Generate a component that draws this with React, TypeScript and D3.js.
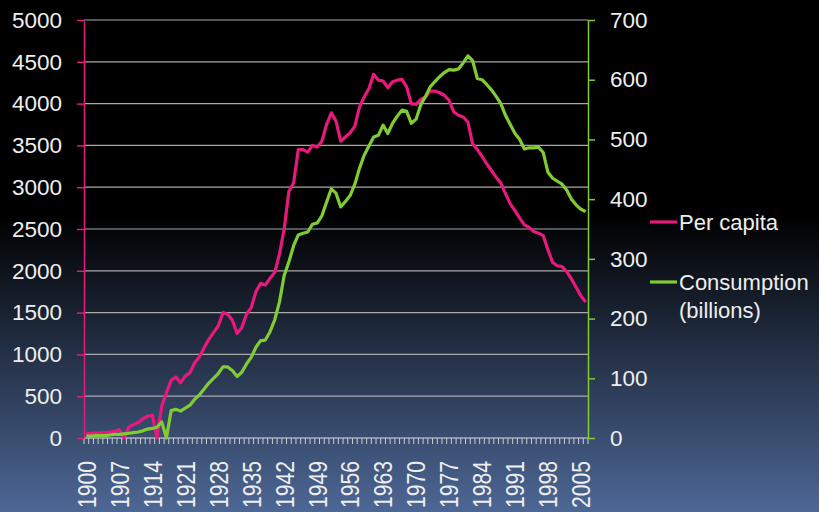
import React, { useRef, useEffect } from "react"
import * as d3 from "d3"

const chart_width = 819
const chart_height = 512
const plot_left = 84
const plot_right = 588
const plot_top = 20
const plot_bottom = 438

const pink = "#e8187c"
const green = "#80cc32"
const text_color = "#eeeeee"
const font = "'Liberation Sans', Arial, sans-serif"

// categories: one per year
const years = d3.range(1900, 2007)
const year_labels = [1900, 1907, 1914, 1921, 1928, 1935, 1942, 1949, 1956, 1963, 1970, 1977, 1984, 1991, 1998, 2005]

// left axis series
const per_capita = [
  50, 55, 60, 63, 66, 70, 80, 100, 0, 130,
  160, 185, 230, 260, 270, 0, 380, 540, 690, 730,
  660, 740, 780, 900, 970, 1080, 1180, 1260, 1340, 1500,
  1480, 1410, 1250, 1320, 1480, 1560, 1750, 1850, 1830, 1910,
  1980, 2200, 2500, 2950, 3050, 3450, 3450, 3420, 3500, 3480,
  3550, 3750, 3890, 3790, 3550, 3600, 3650, 3730, 3960, 4080,
  4180, 4350, 4280, 4270, 4190, 4260, 4280, 4290, 4200, 4000,
  3990, 4050, 4080, 4150, 4150, 4130, 4100, 4040, 3900, 3860,
  3840, 3780, 3520, 3450, 3370, 3280, 3200, 3120, 3050, 2920,
  2800, 2720, 2630, 2550, 2520, 2470, 2450, 2420, 2250, 2100,
  2060, 2050, 1990, 1900, 1800, 1700, 1625,
]

// right axis series (billions)
const consumption = [
  3, 3, 4, 4, 4, 5, 6, 6, 7, 8,
  9, 10, 12, 15, 16, 18, 27, 0, 46, 48,
  45, 50, 55, 65, 72, 82, 92, 100, 108, 119,
  119, 113, 103, 110, 124, 135, 152, 163, 164, 178,
  198, 228, 272, 295, 322, 340, 343, 345, 358, 360,
  372, 395, 417, 410, 387, 396, 406, 425, 452, 474,
  489, 504, 507, 524, 510, 527, 539, 549, 547, 527,
  534, 558, 572, 588, 597, 605, 612, 617, 616, 618,
  628, 640, 632, 602, 600, 592, 583, 572, 560, 540,
  525, 510, 500, 484, 486, 486, 487, 478, 445, 435,
  430, 425, 415, 400, 390, 383, 379,
]

const left_ticks = [0, 500, 1000, 1500, 2000, 2500, 3000, 3500, 4000, 4500, 5000]
const right_ticks = [0, 100, 200, 300, 400, 500, 600, 700]
const legend_labels = [["Per capita"], ["Consumption", "(billions)"]]

const App = () => {
  const d3Container = useRef<SVGSVGElement>(null)

  useEffect(() => {
    if (!d3Container.current) return
    const svg = d3.select(d3Container.current)
    svg.selectAll("*").remove()

    // background gradient
    const grad = svg
      .append("defs")
      .append("linearGradient")
      .attr("id", "bg")
      .attr("x1", 0)
      .attr("y1", 0)
      .attr("x2", 0)
      .attr("y2", 1)
    grad.append("stop").attr("offset", "0%").attr("stop-color", "#000000")
    grad.append("stop").attr("offset", "42%").attr("stop-color", "#000000")
    grad.append("stop").attr("offset", "100%").attr("stop-color", "#4d6795")
    svg
      .append("rect")
      .attr("width", chart_width)
      .attr("height", chart_height)
      .attr("fill", "url(#bg)")

    const x_scale = d3.scaleBand<number>().domain(years).range([plot_left, plot_right])
    const x_mid = (y: number) => (x_scale(y) as number) + x_scale.bandwidth() / 2
    const y_left = d3.scaleLinear().domain([0, 5000]).range([plot_bottom, plot_top])
    const y_right = d3.scaleLinear().domain([0, 700]).range([plot_bottom, plot_top])

    // gridlines
    svg
      .append("g")
      .selectAll("line")
      .data(left_ticks)
      .enter()
      .append("line")
      .attr("x1", plot_left)
      .attr("x2", plot_right)
      .attr("y1", d => y_left(d))
      .attr("y2", d => y_left(d))
      .attr("stroke", d => (d === 0 ? "#dddddd" : "#a8a8a8"))
      .attr("stroke-width", 1.2)

    // category ticks along the bottom
    const edges = years.map(y => x_scale(y) as number).concat([plot_right])
    svg
      .append("g")
      .selectAll("line")
      .data(edges)
      .enter()
      .append("line")
      .attr("x1", d => d)
      .attr("x2", d => d)
      .attr("y1", plot_bottom)
      .attr("y2", plot_bottom + 6)
      .attr("stroke", "#c8cdd8")
      .attr("stroke-width", 1)

    // year labels
    svg
      .append("g")
      .selectAll("text")
      .data(year_labels)
      .enter()
      .append("text")
      .attr("x", d => x_mid(d))
      .attr("y", plot_bottom + 23)
      .attr("transform", d => "rotate(-90," + x_mid(d) + "," + (plot_bottom + 23) + ")")
      .attr("dy", "0.36em")
      .attr("text-anchor", "end")
      .attr("font-family", font)
      .attr("font-size", 26)
      .attr("textLength", 47)
      .attr("lengthAdjust", "spacingAndGlyphs")
      .attr("fill", text_color)
      .text(d => d)

    // left axis
    const left_axis = svg
      .append("g")
      .attr("transform", "translate(" + plot_left + ",0)")
      .call(
        d3
          .axisLeft(y_left)
          .tickValues(left_ticks)
          .tickFormat(d3.format("d"))
          .tickSize(7)
          .tickSizeOuter(0)
          .tickPadding(15)
      )
    left_axis.select(".domain").attr("stroke", pink).attr("stroke-width", 1.5)
    left_axis.selectAll(".tick line").attr("stroke", pink).attr("stroke-width", 1.5)
    left_axis
      .selectAll(".tick text")
      .attr("fill", text_color)
      .attr("font-family", font)
      .attr("font-size", 22.5)

    // right axis
    const right_axis = svg
      .append("g")
      .attr("transform", "translate(" + plot_right + ",0)")
      .call(
        d3
          .axisRight(y_right)
          .tickValues(right_ticks)
          .tickFormat(d3.format("d"))
          .tickSize(7)
          .tickSizeOuter(0)
          .tickPadding(15)
      )
    right_axis.select(".domain").attr("stroke", green).attr("stroke-width", 1.5)
    right_axis.selectAll(".tick line").attr("stroke", green).attr("stroke-width", 1.5)
    right_axis
      .selectAll(".tick text")
      .attr("fill", text_color)
      .attr("font-family", font)
      .attr("font-size", 22.5)

    // lines
    const line_left = d3
      .line<number>()
      .x((d, i) => x_mid(years[i]))
      .y(d => y_left(d))
    const line_right = d3
      .line<number>()
      .x((d, i) => x_mid(years[i]))
      .y(d => y_right(d))

    svg
      .append("path")
      .datum(per_capita)
      .attr("d", line_left)
      .attr("fill", "none")
      .attr("stroke", pink)
      .attr("stroke-width", 3.2)
      .attr("stroke-linejoin", "round")

    svg
      .append("path")
      .datum(consumption)
      .attr("d", line_right)
      .attr("fill", "none")
      .attr("stroke", green)
      .attr("stroke-width", 3.2)
      .attr("stroke-linejoin", "round")

    // legend
    const legend_colors = [pink, green]
    const legend_y = [222, 282]
    legend_labels.forEach((lines, i) => {
      svg
        .append("line")
        .attr("x1", 650)
        .attr("x2", 677)
        .attr("y1", legend_y[i])
        .attr("y2", legend_y[i])
        .attr("stroke", legend_colors[i])
        .attr("stroke-width", 3.2)
      lines.forEach((t, j) => {
        svg
          .append("text")
          .attr("x", 679)
          .attr("y", legend_y[i] + 8 + j * 28)
          .attr("font-family", font)
          .attr("font-size", 22)
          .attr("fill", text_color)
          .text(t)
      })
    })
  }, [])

  return (
    <svg
      ref={d3Container}
      width={chart_width}
      height={chart_height}
      style={{ position: "absolute", left: 0, top: 0 }}
    />
  )
}

export default App
